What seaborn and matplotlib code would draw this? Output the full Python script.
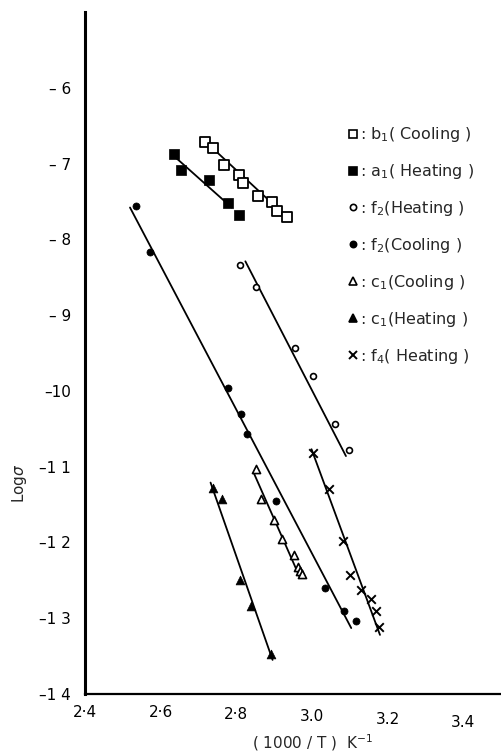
import numpy as np
import pandas as pd
import matplotlib
matplotlib.use("Agg")
import matplotlib.pyplot as plt
import matplotlib.transforms as mtransforms
from matplotlib.lines import Line2D
import seaborn as sns

# ---------------- data ----------------
b1_cool_x = [2.717, 2.739, 2.767, 2.807, 2.818, 2.857, 2.895, 2.907, 2.935]
b1_cool_y = [-6.71, -6.80, -7.02, -7.15, -7.25, -7.43, -7.51, -7.62, -7.71]
b1_fit_x = [2.711, 2.935]
b1_fit_y = [-6.675, -7.71]

a1_heat_x = [2.635, 2.655, 2.728, 2.778, 2.807]
a1_heat_y = [-6.87, -7.08, -7.22, -7.52, -7.68]
a1_fit_x = [2.635, 2.788]
a1_fit_y = [-6.90, -7.58]

f2_heat_x = [2.809, 2.853, 2.954, 3.002, 3.060, 3.097]
f2_heat_y = [-8.34, -8.63, -9.44, -9.80, -10.44, -10.78]
f2h_fit_x = [2.824, 3.090]
f2h_fit_y = [-8.29, -10.86]

f2_cool_x = [2.536, 2.573, 2.778, 2.813, 2.829, 2.904, 3.035, 3.086, 3.117]
f2_cool_y = [-7.56, -8.17, -9.96, -10.31, -10.57, -11.45, -12.60, -12.90, -13.04]
f2c_fit_x = [2.519, 3.104]
f2c_fit_y = [-7.58, -13.13]

c1_cool_x = [2.851, 2.866, 2.900, 2.921, 2.952, 2.963, 2.968, 2.975]
c1_cool_y = [-11.03, -11.43, -11.71, -11.96, -12.16, -12.32, -12.38, -12.41]
c1c_fit_x = [2.846, 2.969]
c1c_fit_y = [-11.08, -12.47]

c1_heat_x = [2.739, 2.761, 2.809, 2.840, 2.893]
c1_heat_y = [-11.28, -11.43, -12.49, -12.84, -13.47]
c1h_fit_x = [2.732, 2.896]
c1h_fit_y = [-11.21, -13.55]

f4_heat_x = [3.002, 3.046, 3.083, 3.102, 3.130, 3.155, 3.170, 3.178]
f4_heat_y = [-10.82, -11.30, -11.98, -12.43, -12.63, -12.75, -12.90, -13.12]
f4_fit_x = [2.999, 3.180]
f4_fit_y = [-10.77, -13.22]

legend_labels = [": b$_1$( Cooling )", ": a$_1$( Heating )", ": f$_2$(Heating )",
                 ": f$_2$(Cooling )", ": c$_1$(Cooling )", ": c$_1$(Heating )",
                 ": f$_4$( Heating )"]

x_ticks = [2.4, 2.6, 2.8, 3.0, 3.2, 3.4]
x_tick_labels = ["2·4", "2·6", "2·8", "3.0", "3.2", "3.4"]
y_ticks = [-14, -13, -12, -11, -10, -9, -8, -7, -6]
y_tick_labels = ["\u20131 4", "\u20131 3", "\u20131 2", "\u20131 1", "\u201310",
                 "\u2013 9", "\u2013 8", "\u2013 7", "\u2013 6"]

# ---------------- figure ----------------
sns.set_theme(style="white")
plt.rcParams["font.family"] = ["DejaVu Sans"]

fig = plt.figure(figsize=(5.01, 7.55), dpi=100)
ax = fig.add_axes([85 / 501, 61 / 755, 416 / 501, 682 / 755])

series = [
    (b1_cool_x, b1_cool_y, b1_fit_x, b1_fit_y, dict(marker="s", s=48, facecolor="white", edgecolor="black", linewidth=1.3)),
    (a1_heat_x, a1_heat_y, a1_fit_x, a1_fit_y, dict(marker="s", s=50, facecolor="black", edgecolor="black", linewidth=0.5)),
    (f2_heat_x, f2_heat_y, f2h_fit_x, f2h_fit_y, dict(marker="o", s=18, facecolor="white", edgecolor="black", linewidth=1.2)),
    (f2_cool_x, f2_cool_y, f2c_fit_x, f2c_fit_y, dict(marker="o", s=26, facecolor="black", edgecolor="black", linewidth=0.5)),
    (c1_cool_x, c1_cool_y, c1c_fit_x, c1c_fit_y, dict(marker="^", s=34, facecolor="white", edgecolor="black", linewidth=1.2)),
    (c1_heat_x, c1_heat_y, c1h_fit_x, c1h_fit_y, dict(marker="^", s=40, facecolor="black", edgecolor="black", linewidth=0.5)),
    (f4_heat_x, f4_heat_y, f4_fit_x, f4_fit_y, dict(marker="x", s=38, color="black", linewidth=1.4)),
]

handles = []
for (xs, ys, fx, fy, kw), lab in zip(series, legend_labels):
    sns.lineplot(x=fx, y=fy, ax=ax, color="black", linewidth=1.3, sort=False)
    sns.scatterplot(x=xs, y=ys, ax=ax, zorder=3, **kw)
    if kw["marker"] == "x":
        h = Line2D([], [], linestyle="none", marker="x", markersize=6,
                   color="black", markeredgewidth=1.4)
    else:
        h = Line2D([], [], linestyle="none", marker=kw["marker"],
                   markersize=6 if kw["marker"] != "o" else 4.5,
                   markerfacecolor=kw["facecolor"], markeredgecolor="black",
                   markeredgewidth=1.2)
    handles.append(h)

ax.set_xlim(2.4, 3.5)
ax.set_ylim(-14, -5)
ax.set_xticks(x_ticks)
ax.set_xticklabels(x_tick_labels)
ax.set_yticks(y_ticks)
ax.set_yticklabels(y_tick_labels)
ax.tick_params(axis="both", direction="in", length=5, width=1.0, colors="black",
               labelsize=11, pad=8)
ax.tick_params(axis="y", pad=10)

# staggered x tick labels like the scanned original
offsets = [0, 0, 2, 4, 7, 10]
for lab, off in zip(ax.get_xticklabels(), offsets):
    lab.set_transform(lab.get_transform() +
                      mtransforms.ScaledTranslation(0, -off / 100, fig.dpi_scale_trans))

for sp in ["top", "right"]:
    ax.spines[sp].set_visible(False)
ax.spines["left"].set_linewidth(2.2)
ax.spines["bottom"].set_linewidth(1.6)
ax.spines["left"].set_color("black")
ax.spines["bottom"].set_color("black")

ax.set_xlabel("( 1000 / T )  K$^{-1}$", fontsize=11)
ax.set_ylabel("Log$\\sigma$", fontsize=11)
ax.xaxis.set_label_coords(0.548, -0.056)
ax.yaxis.set_label_coords(-0.135, 0.309)

leg = ax.legend(handles, legend_labels, loc="upper left",
                bbox_to_anchor=(0.632, 0.834), frameon=False, fontsize=11.5,
                handlelength=0.6, handletextpad=0.15, labelspacing=1.12,
                borderpad=0, borderaxespad=0)

fig.savefig("out.png", dpi=100)
